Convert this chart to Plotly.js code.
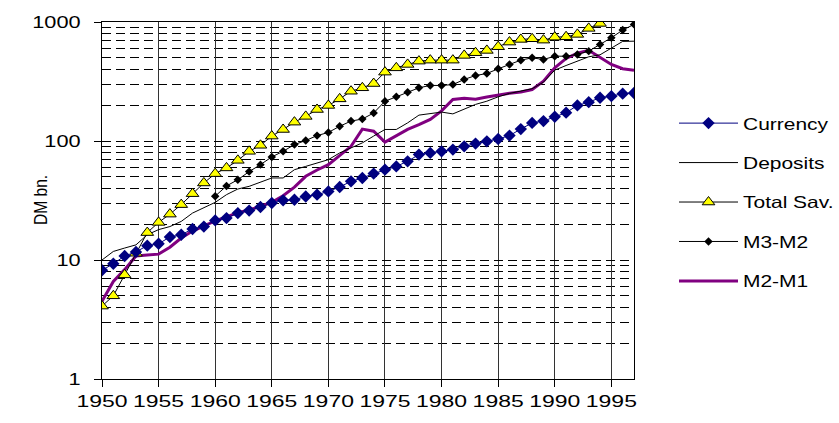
<!DOCTYPE html>
<html>
<head>
<meta charset="utf-8">
<script src="https://cdn.plot.ly/plotly-3.0.1.min.js"></script>
<style>
  html, body { margin: 0; padding: 0; background: #fff; }
  #chart { width: 839px; height: 423px; }
</style>
</head>
<body>
<div id="chart"></div>
<script>
// Monetary and savings aggregates, West Germany, DM billion (log scale)
const years = [1950,1951,1952,1953,1954,1955,1956,1957,1958,1959,
               1960,1961,1962,1963,1964,1965,1966,1967,1968,1969,
               1970,1971,1972,1973,1974,1975,1976,1977,1978,1979,
               1980,1981,1982,1983,1984,1985,1986,1987,1988,1989,
               1990,1991,1992,1993,1994,1995,1996,1997];

const currency = [8.2,9.3,10.8,11.7,13.2,13.7,15.6,16.3,18.2,19.1,
                  21.5,22.5,24.8,26.0,27.9,30.1,31.7,32.1,34.2,35.4,
                  37.7,41.1,45.8,48.9,53.2,57.4,61.2,67.5,76.9,79.4,
                  81.9,84.7,90.2,95.1,99.4,104,111,126,142,147,
                  160,173,199,212,231,238,250,253];

const deposits = [10.0,11.8,12.6,13.4,16.3,18.0,19.1,21.1,24.8,27.3,
                  30.5,35.4,39.5,41.6,44.9,48.9,48.9,57.4,61.2,65.4,
                  69.7,79.4,87.5,96.4,110,125,125,142,165,169,
                  175,169,186,203,216,235,251,262,275,312,
                  394,431,469,510,530,600,687,690];

const totalSav = [4.1,5.0,7.5,11.4,17.0,20.7,24.3,29.2,36.1,44.4,
                  53.2,59.4,68.8,81.9,92,110,125,144,161,184,
                  199,226,262,280,304,379,412,440,469,478,
                  478,478,524,552,577,620,678,714,723,704,
                  746,752,787,884,973,1070,1140,null];

const m3m2 = [null,null,null,null,null,null,null,null,null,null,
              34.4,41.9,47.3,55.3,63.3,73.5,81.9,93.3,101,111,
              118,133,147,153,172,216,235,257,280,293,
              293,298,329,355,369,404,440,478,500,484,
              516,516,534,569,648,738,855,955];

const m2m1 = [4.5,6.6,8.3,10.8,11.0,11.2,12.8,15.3,17.5,19.3,
              21.3,23.0,25.0,26.3,28.2,30.5,34.7,40.9,50.5,57.1,
              63.3,76.1,90.2,126,121,97.9,110,125,137,152,
              179,223,229,224,234,244,252,258,271,318,
              412,494,547,579,504,440,405,394];

const FONT = '"Liberation Sans", Arial, sans-serif';

// drawn bottom-up: M2-M1 lies beneath the other series
const traces = [
  {
    name: 'M2-M1', x: years, y: m2m1, mode: 'lines',
    line: {color: '#800080', width: 3},
    legendgroup: 'g5', legendrank: 5
  },
  {
    name: 'Deposits', x: years, y: deposits, mode: 'lines',
    line: {color: '#000000', width: 1},
    legendgroup: 'g2', legendrank: 2
  },
  {
    name: 'Total Sav.', x: years, y: totalSav, mode: 'lines+markers',
    line: {color: '#000000', width: 1},
    marker: {symbol: 'triangle-up', size: 11, color: '#ffff00',
             line: {color: '#000000', width: 1}},
    legendgroup: 'g3', legendrank: 3
  },
  {
    name: 'M3-M2', x: years, y: m3m2, mode: 'lines+markers',
    line: {color: '#000000', width: 1},
    marker: {symbol: 'diamond', size: 6.5, color: '#000000'},
    legendgroup: 'g4', legendrank: 4
  },
  {
    name: 'Currency', x: years, y: currency, mode: 'lines+markers',
    line: {color: '#000080', width: 1},
    marker: {symbol: 'diamond', size: 9.5, color: '#000080'},
    legendgroup: 'g1', legendrank: 1
  }
];

const layout = {
  width: 839, height: 423,
  margin: {l: 102, r: 205, t: 22, b: 44},
  paper_bgcolor: '#ffffff', plot_bgcolor: '#ffffff',
  font: {family: FONT, size: 16, color: '#000000'},
  showlegend: true,
  legend: {
    x: 1.0752, y: 0.765, xanchor: 'left', yanchor: 'top',
    bgcolor: 'rgba(0,0,0,0)', borderwidth: 0,
    font: {family: FONT, size: 16.5, color: '#000000'},
    tracegroupgap: 15, itemwidth: 59, traceorder: 'grouped'
  },
  xaxis: {
    range: [1950, 1997], tick0: 1950, dtick: 5, tickangle: 0,
    ticks: 'outside', ticklen: 7, tickcolor: '#000000', tickwidth: 1,
    showline: true, mirror: true, linecolor: '#000000', linewidth: 1,
    showgrid: true, gridcolor: '#333333', gridwidth: 1,
    zeroline: false, fixedrange: true,
    tickfont: {family: FONT, size: 17, color: '#000000'}
  },
  yaxis: {
    type: 'log', range: [0, 3], dtick: 1,
    ticks: 'outside', ticklen: 7, tickcolor: '#000000', tickwidth: 1,
    ticklabelstandoff: 10,
    showline: true, mirror: true, linecolor: '#000000', linewidth: 1,
    showgrid: true, gridcolor: '#000000', gridwidth: 1, griddash: '9px,5px',
    minor: {dtick: 'D1', showgrid: true, gridcolor: '#000000',
            gridwidth: 1, griddash: '9px,5px', ticks: ''},
    zeroline: false, fixedrange: true,
    tickfont: {family: FONT, size: 17, color: '#000000'}
  },
  annotations: [{
    text: 'DM bn.', xref: 'paper', yref: 'paper',
    x: -0.1165, y: 0.5, xanchor: 'center', yanchor: 'middle',
    textangle: -90, showarrow: false,
    font: {family: FONT, size: 19, color: '#000000'}
  }]
};

// broaden the horizontal label glyphs (wide, stretched type)
function widen(selector, factor) {
  document.querySelectorAll(selector).forEach(function (t) {
    const w = t.getComputedTextLength();
    if (w > 0) {
      t.setAttribute('textLength', (w * factor).toFixed(1));
      t.setAttribute('lengthAdjust', 'spacingAndGlyphs');
    }
  });
}

Plotly.newPlot('chart', traces, layout, {displayModeBar: false, staticPlot: true})
  .then(function () {
    widen('.xtick text', 1.35);
    widen('.ytick text', 1.28);
    widen('.legendtext', 1.27);
    // the rotated axis caption: tall glyphs on a compact run
    widen('.annotation-text', 0.82);
    // the wider legend labels must not be cut by the legend's clip box
    document.querySelectorAll('.legend [clip-path]').forEach(function (el) {
      el.removeAttribute('clip-path');
    });
  });
</script>
</body>
</html>
